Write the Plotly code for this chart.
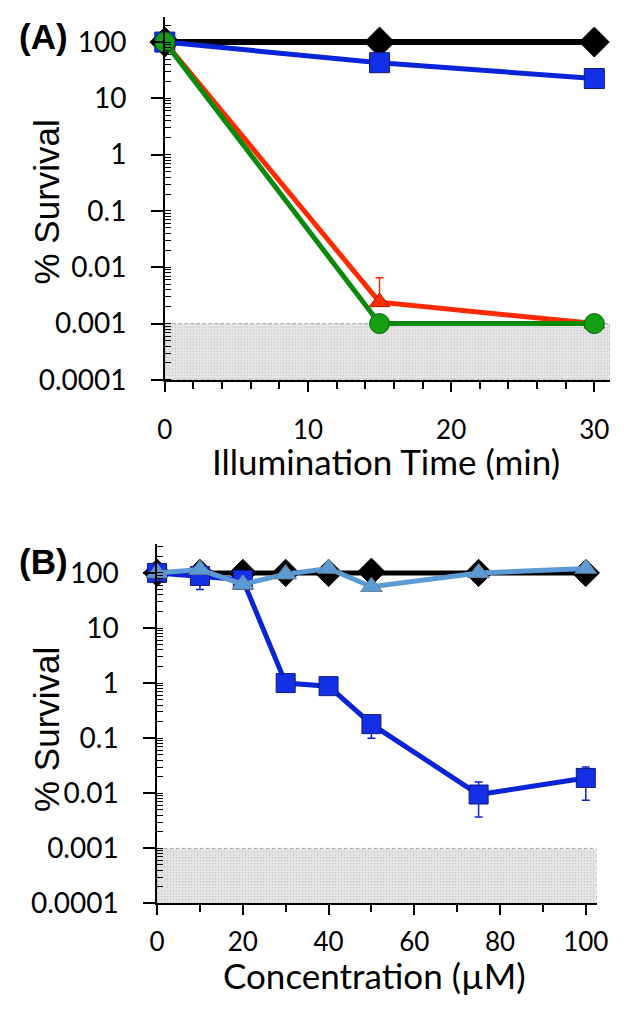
import plotly.graph_objects as go

# (A) survival vs illumination time
time_min = [0, 15, 30]
a_black = [100, 100, 100]
a_blue = [100, 43, 22.5]
a_red = [100, 0.0024, 0.001]
a_red_err_plus = [0, 0.0041, 0]
a_green = [100, 0.001, 0.001]

# (B) survival vs concentration
conc_um = [0, 10, 20, 30, 40, 50, 75, 100]
b_black = [100, 100, 100, 100, 100, 105, 100, 100]
b_blue = [100, 88, 75, 1.0, 0.88, 0.18, 0.0095, 0.019]
b_blue_err_plus = [0, 0, 0, 0, 0, 0.08, 0.0065, 0.011]
b_blue_err_minus = [0, 38, 0, 0, 0, 0.08, 0.0058, 0.0115]
b_light = [100, 115, 62, 95, 120, 56, 100, 120]

detection_limit = 0.001
log_floor = 0.0001
a_xmax = 31.1
b_xmax = 102.5
decade_vals = [1e-4, 1e-3, 1e-2, 1e-1, 1, 10, 100]
decade_text = ["0.0001", "0.001", "0.01", "0.1", "1", "10", "100"]

BLACK = "#000000"
BLUE = "#0a24d8"
RED = "#ff2a00"
GREEN = "#0a8a0a"
LIGHT = "#5b9bd5"

W, H = 624, 1012
fig = go.Figure()


def shade(xmax, xa, ya):
    fig.add_trace(go.Scatter(
        x=[0, xmax, xmax, 0, 0],
        y=[log_floor, log_floor, detection_limit, detection_limit, log_floor],
        xaxis=xa, yaxis=ya, mode="lines", fill="toself",
        fillcolor="#e4e4e4",
        fillpattern=dict(shape=".", bgcolor="#e8e8e8", fgcolor="#9a9a9a",
                         size=3, solidity=0.25),
        line=dict(color="#a0a0a0", width=1, dash="dot"),
        hoverinfo="skip", showlegend=False))


def series(x, y, xa, ya, color, symbol, size, lw, mcolor=None, outline=None,
           err_plus=None, err_minus=None):
    err = None
    if err_plus is not None or err_minus is not None:
        err = dict(type="data", symmetric=False,
                   array=err_plus if err_plus is not None else [0] * len(x),
                   arrayminus=err_minus if err_minus is not None else [0] * len(x),
                   color=color, thickness=1.5, width=4)
    fig.add_trace(go.Scatter(
        x=x, y=y, xaxis=xa, yaxis=ya, mode="lines+markers",
        line=dict(color=color, width=lw),
        marker=dict(symbol=symbol, size=size, color=mcolor or color,
                    line=dict(color=outline or color, width=1)),
        error_y=err, cliponaxis=False, showlegend=False))


# panel A
shade(a_xmax, "x", "y")
series(time_min, a_black, "x", "y", BLACK, "diamond", 23, 6)
series(time_min, a_blue, "x", "y", BLUE, "square", 20, 5, mcolor="#1430e6", outline="#0b1a80")
series(time_min, a_red, "x", "y", RED, "triangle-up", 18, 5, outline="#b01a00",
       err_plus=a_red_err_plus)
series(time_min, a_green, "x", "y", GREEN, "circle", 20, 5, mcolor="#12a012", outline="#0a600a")

# panel B
shade(b_xmax, "x2", "y2")
series(conc_um, b_black, "x2", "y2", BLACK, "diamond", 21, 5)
series(conc_um, b_blue, "x2", "y2", BLUE, "square", 19, 5, mcolor="#1430e6", outline="#0b1a80",
       err_plus=b_blue_err_plus, err_minus=b_blue_err_minus)
series(conc_um, b_light, "x2", "y2", LIGHT, "triangle-up", 19, 5, outline="#6f7f90")

tick_font = dict(family="Lato, sans-serif", size=28, color="black")
xtick_font = dict(family="Lato, sans-serif", size=26, color="black")

yaxis_common = dict(
    type="log", showgrid=False, zeroline=False, showline=True, linecolor="black",
    linewidth=1.5, ticks="outside", ticklen=12, tickwidth=1.5, tickcolor="black",
    tickvals=decade_vals, ticktext=decade_text,
    tickfont=tick_font, ticklabelstandoff=19,
    minor=dict(ticks="inside", ticklen=6, tickwidth=1, tickcolor="black", dtick="D1",
               showgrid=False),
)
# inner half of the decade ticks, so they cross the axis line
yaxis_inner = dict(
    type="log", showgrid=False, zeroline=False, showline=False, ticks="inside",
    ticklen=6, tickwidth=1.5, tickcolor="black", tickvals=decade_vals,
    showticklabels=False, side="left",
)
xaxis_common = dict(
    showgrid=False, zeroline=False, showline=True, linecolor="black", linewidth=1.5,
    ticks="outside", ticklen=10, tickwidth=1.5, tickcolor="black", tickfont=xtick_font,
)
x_minor = dict(ticks="outside", ticklen=7, tickwidth=1.5, tickcolor="black")

fig.update_layout(
    width=W, height=H, margin=dict(l=0, r=0, t=0, b=0),
    paper_bgcolor="white", plot_bgcolor="white",
    xaxis=dict(xaxis_common, domain=[162 / W, 622 / W], range=[0, a_xmax], anchor="y",
               tick0=0, dtick=10, minor=dict(x_minor, dtick=2), ticklabelstandoff=16),
    yaxis=dict(yaxis_common, domain=[1 - 386 / H, 1 - 17 / H], range=[-4, 2.45], anchor="x"),
    yaxis3=dict(yaxis_inner, overlaying="y", anchor="x", range=[-4, 2.45]),
    xaxis2=dict(xaxis_common, domain=[154 / W, 608 / W], range=[0, b_xmax], anchor="y2",
                tick0=0, dtick=20, minor=dict(x_minor, dtick=10), ticklabelstandoff=5),
    yaxis2=dict(yaxis_common, domain=[1 - 918 / H, 1 - 553 / H], range=[-4, 2.52], anchor="x2"),
    yaxis4=dict(yaxis_inner, overlaying="y2", anchor="x2", range=[-4, 2.52]),
)

label_font = dict(family="Liberation Sans, Arial, sans-serif", size=35, color="black")
ytitle_font = dict(family="Liberation Sans, Arial, sans-serif", size=35, color="black")
xtitle_font = dict(family="Lato, sans-serif", size=35, color="black")


def note(text, x, y, font, angle=0):
    fig.add_annotation(text=text, x=x / W, y=1 - y / H, xref="paper", yref="paper",
                       xanchor="center", yanchor="middle", showarrow=False,
                       font=font, textangle=angle)


note("<b>(A)</b>", 37, 37, label_font)
note("<b>(B)</b>", 37, 571, label_font)
note("% Survival", 40, 205, ytitle_font, -90)
note("% Survival", 40, 741, ytitle_font, -90)
note("Illumination Time (min)", 390, 468, xtitle_font)
note("Concentration (µM)", 379, 991, xtitle_font)

fig.write_html("out.html")
